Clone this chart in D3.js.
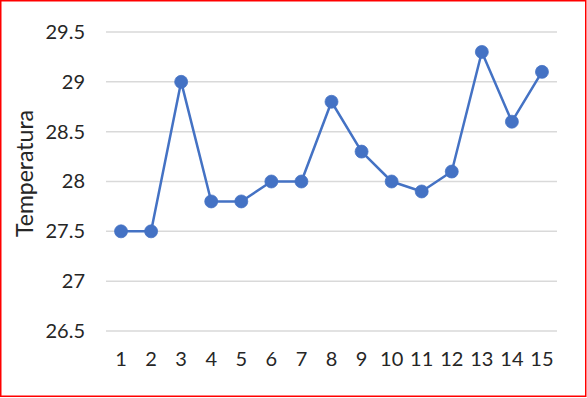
<!DOCTYPE html>
<html>
<head>
<meta charset="utf-8">
<script src="https://cdn.jsdelivr.net/npm/d3@7"></script>
<style>
	body { margin: 0; background: #fff; }
	svg { display: block; }
	text { font-family: Lato, 'Open Sans', sans-serif; fill: #262626; }
</style>
</head>
<body>
<script>
	// DATA
	const categories = ['1', '2', '3', '4', '5', '6', '7', '8', '9', '10', '11', '12', '13', '14', '15'];
	const temperatures = [27.5, 27.5, 29, 27.8, 27.8, 28, 28, 28.8, 28.3, 28, 27.9, 28.1, 29.3, 28.6, 29.1];
	const yTicks = [26.5, 27, 27.5, 28, 28.5, 29, 29.5];
	const yTitle = 'Temperatura';

	// CONFIGURATION
	const width = 587;
	const height = 398;
	const plotLeft = 106;
	const plotRight = 557;
	const plotTop = 32;
	const plotBottom = 331;
	const color = '#4472c4';

	const svg = d3.select('body')
		.append('svg')
		.attr('width', width)
		.attr('height', height);

	// red frame
	svg.append('rect')
		.attr('x', 0.75)
		.attr('y', 0.75)
		.attr('width', 585)
		.attr('height', 395.5)
		.attr('fill', 'none')
		.attr('stroke', '#ff0000')
		.attr('stroke-width', 1.5);

	// SCALES
	const xScale = d3.scaleBand()
		.domain(categories)
		.range([plotLeft, plotRight]);

	const yScale = d3.scaleLinear()
		.domain([26.5, 29.5])
		.range([plotBottom, plotTop]);

	// GRID
	svg.append('g')
		.selectAll('line')
		.data(yTicks)
		.enter()
		.append('line')
		.attr('x1', plotLeft)
		.attr('x2', plotRight)
		.attr('y1', d => yScale(d))
		.attr('y2', d => yScale(d))
		.attr('stroke', '#d9d9d9')
		.attr('stroke-width', 1.5);

	// AXES
	const yAxis = d3.axisLeft(yScale)
		.tickValues(yTicks)
		.tickSize(0)
		.tickPadding(21)
		.tickFormat(d => String(d));
	svg.append('g')
		.attr('transform', `translate(${plotLeft}, 0)`)
		.call(yAxis)
		.call(g => g.select('.domain').remove())
		.selectAll('text')
		.style('font-size', '20px')
		.style('font-family', 'Lato, sans-serif')
		.attr('fill', '#262626');

	const xAxis = d3.axisBottom(xScale)
		.tickSize(0)
		.tickPadding(21);
	svg.append('g')
		.attr('transform', `translate(0, ${plotBottom})`)
		.call(xAxis)
		.call(g => g.select('.domain').remove())
		.selectAll('text')
		.style('font-size', '20px')
		.style('font-family', 'Lato, sans-serif')
		.attr('fill', '#262626');

	// AXIS TITLE
	svg.append('text')
		.attr('transform', `translate(33, ${(plotTop + plotBottom) / 2 - 8}) rotate(-90)`)
		.attr('text-anchor', 'middle')
		.style('font-size', '23px')
		.text(yTitle);

	// LINE
	const line = d3.line()
		.x((d, i) => xScale(categories[i]) + xScale.bandwidth() / 2)
		.y(d => yScale(d));

	svg.append('path')
		.datum(temperatures)
		.attr('d', line)
		.attr('fill', 'none')
		.attr('stroke', color)
		.attr('stroke-width', 2.5)
		.attr('stroke-linejoin', 'round');

	svg.append('g')
		.selectAll('circle')
		.data(temperatures)
		.enter()
		.append('circle')
		.attr('cx', (d, i) => xScale(categories[i]) + xScale.bandwidth() / 2)
		.attr('cy', d => yScale(d))
		.attr('r', 6.5)
		.attr('fill', color)
		.attr('stroke', color)
		.attr('stroke-width', 0.75);
</script>
</body>
</html>
